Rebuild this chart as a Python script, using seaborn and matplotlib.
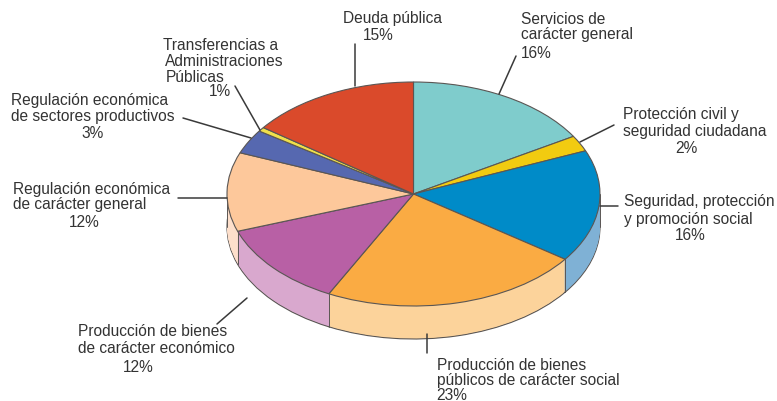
import numpy as np
import matplotlib
matplotlib.use("Agg")
import matplotlib.pyplot as plt
from matplotlib.lines import Line2D
from matplotlib.transforms import Affine2D
import seaborn as sns

# ---- data ----
categories = ["Servicios de carácter general", "Protección civil y seguridad ciudadana",
              "Seguridad, protección y promoción social", "Producción de bienes públicos de carácter social",
              "Producción de bienes de carácter económico", "Regulación económica de carácter general",
              "Regulación económica de sectores productivos", "Transferencias a Administraciones Públicas",
              "Deuda pública"]
slice_sizes = [16.4, 2.3, 16.2, 22.6, 12.1, 11.4, 3.5, 0.6, 14.9]   # as drawn in the picture
top_colors = ["#7FCCCC", "#F2CB10", "#008BC8", "#FAAB43", "#B860A5", "#FDC89B", "#5668B0", "#F0E04A", "#DA4A2B"]
side_colors = ["#B8E2E2", "#F8E27A", "#7FB1D5", "#FCD39B", "#D9A8CE", "#FDDFCB", "#A8B2D6", "#F6EE9E", "#EBA08E"]

# ---- layout (pixels) ----
W, H = 777, 402
CX, CY, RX, RY, DEPTH = 413.5, 195, 186.5, 112, 33
EDGE = "#5A5654"
TEXT = "#333333"

sns.set_theme(style="white")
plt.rcParams["font.family"] = ["Liberation Sans", "DejaVu Sans"]

fig = plt.figure(figsize=(W / 100, H / 100), dpi=100, facecolor="white")
ax = fig.add_axes([0, 0, 1, 1])

top_pal = sns.color_palette(top_colors)
side_pal = sns.color_palette(side_colors)
depth_u = DEPTH / RY

# extruded wall: stacked pies, lowest first
offsets = np.arange(DEPTH, 0, -1.0) / RY
for i, d in enumerate(offsets):
    ax.pie(slice_sizes, colors=side_pal, startangle=90, counterclock=False, center=(0, -d),
           wedgeprops=dict(linewidth=0.8 if i == 0 else 0,
                           edgecolor=EDGE if i == 0 else "none"))

# wall separators and silhouette
cum = np.cumsum(slice_sizes) / np.sum(slice_sizes)
for c in cum:
    t = np.deg2rad(90 - 360 * c)
    if np.sin(t) < 0:
        ax.plot([np.cos(t)] * 2, [np.sin(t), np.sin(t) - depth_u], color=EDGE, lw=0.7, zorder=5)
for sx in (-1, 1):
    ax.plot([sx, sx], [0, -depth_u], color=EDGE, lw=0.7, zorder=5)

# top face
ax.pie(slice_sizes, colors=top_pal, startangle=90, counterclock=False, center=(0, 0),
       wedgeprops=dict(linewidth=0.8, edgecolor=EDGE, zorder=6))

ax.set_aspect("auto")
ax.set_xlim(-CX / RX, (W - CX) / RX)
ax.set_ylim(-(H - CY) / RY, CY / RY)
ax.axis("off")

# pixel coordinates, origin top-left
px = Affine2D().scale(1 / W, -1 / H).translate(0, 1) + fig.transFigure

leaders = [((355, 45), (355, 87)), ((516, 57), (499, 95)), ((614, 126), (580, 143)),
           ((618, 207), (600, 207)), ((427, 335), (427, 354)), ((217, 325), (247, 299)),
           ((178, 199), (227, 199)), ((183, 119), (251, 139)), ((235, 87), (260, 131))]
for a, b in leaders:
    fig.add_artist(Line2D([a[0], b[0]], [a[1], b[1]], transform=px, color="#3A3A3A", lw=1.1))

labels = [
    ("Deuda pública", 343, 19, "left"), ("15%", 378, 36, "center"),
    ("Servicios de", 521, 20, "left"), ("carácter general", 521, 35, "left"), ("16%", 521, 53, "left"),
    ("Protección civil y", 623, 115, "left"), ("seguridad ciudadana", 623, 132, "left"), ("2%", 686, 149, "center"),
    ("Seguridad, protección", 624, 202, "left"), ("y promoción social", 624, 220, "left"), ("16%", 690, 236, "center"),
    ("Producción de bienes", 437, 366, "left"), ("públicos de carácter social", 437, 381, "left"), ("23%", 436, 396, "left"),
    ("Producción de bienes", 78, 332, "left"), ("de carácter económico", 78, 349, "left"), ("12%", 138, 368, "center"),
    ("Regulación económica", 13, 190, "left"), ("de carácter general", 13, 205, "left"), ("12%", 84, 223, "center"),
    ("Regulación económica", 11, 100, "left"), ("de sectores productivos", 11, 116, "left"), ("3%", 93, 134, "center"),
    ("Transferencias a", 163, 45, "left"), ("Administraciones", 165, 62, "left"), ("Públicas", 166, 77, "left"), ("1%", 220, 92, "center"),
]
for s, x, y, ha in labels:
    fig.text(x, y, s, transform=px, ha=ha, va="center", fontsize=11.2, color=TEXT)

fig.savefig("out.png", dpi=100, facecolor="white")
